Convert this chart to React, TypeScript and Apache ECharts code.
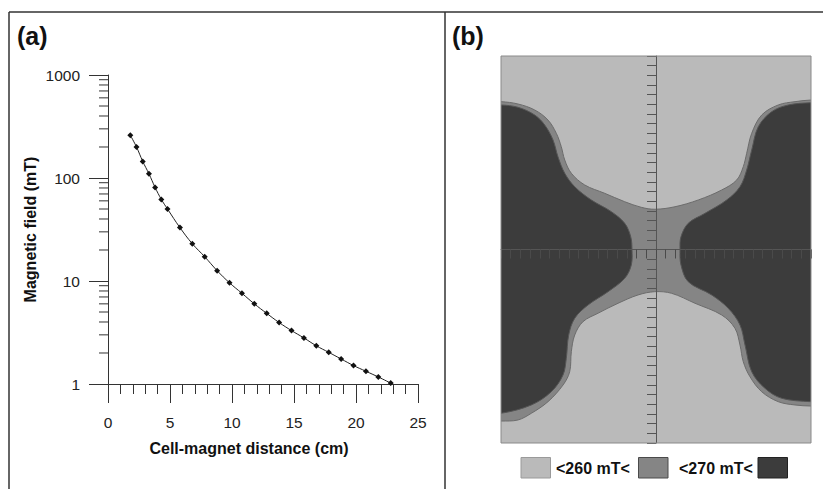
import React, { useEffect, useRef } from "react";
import * as echarts from "echarts";

// ---- Panel (a): field vs distance ----
const distance = [1.8, 2.3, 2.8, 3.3, 3.8, 4.3, 4.8, 5.8, 6.8, 7.8, 8.8, 9.8, 10.8, 11.8, 12.8, 13.8, 14.8, 15.8, 16.8, 17.8, 18.8, 19.8, 20.8, 21.8, 22.8];
const field = [260, 200, 145, 110, 81, 62, 50, 33, 23, 17.2, 12.6, 9.6, 7.6, 6.0, 4.85, 3.95, 3.3, 2.8, 2.35, 2.03, 1.75, 1.51, 1.33, 1.17, 1.02];
const xTickLabels = ["0", "5", "10", "15", "20", "25"];
const yTickLabels = ["1", "10", "100", "1000"];
const yMinorTicks = [2, 3, 4, 5, 6, 7, 8, 9, 20, 30, 40, 50, 60, 70, 80, 90, 200, 300, 400, 500, 600, 700, 800, 900];

// ---- Panel (b): field map contours (grid units) ----
const lightTop = [
  [-16, 15.28], [-14.25, 15.04], [-12.52, 14.42], [-11.15, 13.38], [-10.29, 12.01], [-9.78, 10.63],
  [-9.42, 9.25], [-8.74, 7.88], [-7.36, 6.67], [-5.3, 5.81], [-3.23, 4.94], [-1.52, 4.36], [-0.1, 4.16],
  [1.96, 4.42], [4.37, 5.12], [6.78, 6.15], [8.33, 7.18], [9.01, 8.56], [9.36, 9.94], [9.88, 12.01],
  [10.91, 13.9], [12.62, 14.94], [14.35, 15.28], [16, 15.45],
];
const lightBottom = [
  [-16, -17.73], [-14.25, -17.62], [-12.87, -16.93], [-11.15, -15.73], [-9.6, -14.01], [-8.91, -12.63],
  [-8.74, -10.56], [-8.39, -8.84], [-7.54, -7.46], [-5.99, -6.59], [-3.92, -5.56], [-1.86, -4.7], [-0.13, -4.36],
  [1.62, -4.53], [4.03, -5.56], [6.78, -6.77], [8.15, -8.14], [8.67, -9.87], [9.01, -11.6], [9.7, -13.15],
  [10.91, -14.7], [12.62, -15.73], [14.35, -16.07], [16, -16.18],
];
const darkLeft = [
  [-16, 14.94], [-14.25, 14.7], [-12.52, 13.9], [-11.49, 12.87], [-10.63, 11.32], [-10.12, 9.59], [-9.42, 7.88],
  [-8.39, 6.49], [-6.68, 5.12], [-4.61, 3.91], [-3.23, 2.71], [-2.61, 1.32], [-2.48, 0], [-2.55, -1.6],
  [-3.23, -2.98], [-4.95, -4.36], [-7.02, -5.74], [-8.39, -7.11], [-9.01, -8.84], [-9.26, -11.25], [-9.6, -12.97],
  [-10.81, -14.7], [-12.87, -16.07], [-16, -16.93],
];
const darkRight = [
  [16, 15.17], [13.66, 14.94], [11.94, 14.24], [10.56, 12.69], [9.88, 10.28], [9.36, 8.22], [8.67, 6.49],
  [7.3, 5.12], [5.06, 3.74], [3.33, 2.71], [2.58, 1.32], [2.48, 0], [2.58, -1.6], [3.33, -3.33], [5.75, -4.7],
  [7.46, -6.08], [8.67, -7.8], [9.19, -9.87], [9.88, -12.63], [11.25, -14.35], [12.98, -15.38], [16, -15.73],
];
const legendLabels = ["<260 mT<", "<270 mT<"];
const zoneColors = ["#bababa", "#858585", "#3c3c3c"];

const FONT = "'Liberation Sans', Arial, Helvetica, sans-serif";

function extendEdges(pts: number[][], edge: number) {
  const first = pts[0];
  const last = pts[pts.length - 1];
  return [[edge, first[1]], ...pts, [edge, last[1]]];
}

export default function App() {
  const ref = useRef<HTMLDivElement>(null);
  useEffect(() => {
    if (!ref.current) return;
    const chart = echarts.init(ref.current, null, { renderer: "svg" });

    const midPoly = [
      [-18, lightTop[0][1]],
      ...lightTop,
      [18, lightTop[lightTop.length - 1][1]],
      [18, lightBottom[lightBottom.length - 1][1]],
      ...lightBottom.slice().reverse(),
      [-18, lightBottom[0][1]],
    ];
    const leftPoly = extendEdges(darkLeft, -18);
    const rightPoly = extendEdges(darkRight, 18);

    const polySeries = (pts: number[][], fill: string, stroke: string) => ({
      type: "custom",
      xAxisIndex: 1,
      yAxisIndex: 1,
      clip: true,
      silent: true,
      z: 3,
      data: [[0, 0]],
      renderItem: (_p: any, api: any) => ({
        type: "polygon",
        shape: { points: pts.map((p) => api.coord(p)), smooth: 0.35 },
        style: { fill, stroke, lineWidth: 1 },
      }),
    });

    const legendGraphics: any[] = [];
    const legendRects = [
      { x: 521, c: zoneColors[0], b: "#9a9a9a" },
      { x: 638.5, c: zoneColors[1], b: "#4a4a4a" },
      { x: 758, c: zoneColors[2], b: "#222" },
    ];
    legendRects.forEach((r) =>
      legendGraphics.push({
        type: "rect",
        shape: { x: r.x, y: 457.5, width: 29.5, height: 20.5 },
        style: { fill: r.c, stroke: r.b, lineWidth: 1 },
      })
    );
    [556, 679].forEach((x, i) =>
      legendGraphics.push({
        type: "text",
        x,
        y: 468,
        style: {
          text: legendLabels[i],
          font: `bold 16px ${FONT}`,
          fill: "#111",
          verticalAlign: "middle",
          align: "left",
        },
      })
    );

    chart.setOption({
      animation: false,
      grid: [
        { left: 108, top: 75, width: 310, height: 309, containLabel: false },
        {
          left: 501,
          top: 56,
          width: 310,
          height: 387,
          show: true,
          backgroundColor: zoneColors[0],
          borderColor: "#8a8a8a",
          borderWidth: 0,
        },
      ],
      xAxis: [
        {
          type: "value",
          gridIndex: 0,
          min: 0,
          max: 25,
          interval: 5,
          name: "Cell-magnet distance (cm)",
          nameLocation: "middle",
          nameGap: 56,
          nameTextStyle: {
            fontFamily: FONT,
            fontWeight: "bold",
            fontSize: 16,
            color: "#111",
            padding: [0, 28, 0, 0],
          },
          axisLine: { lineStyle: { color: "#333", width: 1 } },
          axisTick: { length: 19, lineStyle: { color: "#333" } },
          minorTick: { show: true, splitNumber: 5, length: 10, lineStyle: { color: "#333" } },
          splitLine: { show: false },
          axisLabel: {
            margin: 30,
            fontFamily: FONT,
            fontSize: 15.5,
            color: "#222",
            formatter: (v: number) => xTickLabels[Math.round(v / 5)] ?? "",
          },
        },
        {
          type: "value",
          gridIndex: 1,
          min: -16,
          max: 16,
          interval: 1,
          z: 10,
          axisLine: { onZero: true, lineStyle: { color: "#555", width: 1 } },
          axisTick: { length: 9, lineStyle: { color: "#4a4a4a" } },
          axisLabel: { show: false },
          splitLine: { show: false },
        },
      ],
      yAxis: [
        {
          type: "log",
          logBase: 10,
          gridIndex: 0,
          min: 1,
          max: 1000,
          name: "Magnetic field (mT)",
          nameLocation: "middle",
          nameGap: 70,
          nameTextStyle: { fontFamily: FONT, fontWeight: "bold", fontSize: 16, color: "#111" },
          axisLine: { show: true, lineStyle: { color: "#333", width: 1 } },
          axisTick: { show: true, length: 19, lineStyle: { color: "#333" } },
          splitLine: { show: false },
          axisLabel: {
            margin: 28,
            fontFamily: FONT,
            fontSize: 15.5,
            color: "#222",
            formatter: (v: number) => yTickLabels[Math.round(Math.log10(v))] ?? "",
          },
        },
        {
          type: "value",
          gridIndex: 1,
          min: -20,
          max: 20,
          interval: 1,
          z: 10,
          axisLine: { onZero: true, lineStyle: { color: "#555", width: 1 } },
          axisTick: { length: 9, lineStyle: { color: "#555" } },
          axisLabel: { show: false },
          splitLine: { show: false },
        },
      ],
      graphic: [
        { type: "line", shape: { x1: 9, y1: 12, x2: 823, y2: 12 }, style: { stroke: "#333", lineWidth: 1.5 } },
        { type: "line", shape: { x1: 9, y1: 12, x2: 9, y2: 489 }, style: { stroke: "#333", lineWidth: 1.5 } },
        { type: "line", shape: { x1: 445, y1: 12, x2: 445, y2: 489 }, style: { stroke: "#333", lineWidth: 1.5 } },
        {
          type: "text",
          x: 17,
          y: 23,
          style: { text: "(a)", font: `bold 25px ${FONT}`, fill: "#111" },
        },
        {
          type: "text",
          x: 452,
          y: 23,
          style: { text: "(b)", font: `bold 25px ${FONT}`, fill: "#111" },
        },
        {
          type: "rect",
          z: 100,
          shape: { x: 501, y: 56, width: 310, height: 387 },
          style: { fill: "none", stroke: "#8a8a8a", lineWidth: 1 },
        },
        ...legendGraphics,
      ],
      series: [
        {
          type: "line",
          xAxisIndex: 0,
          yAxisIndex: 0,
          data: distance.map((d, i) => [d, field[i]]),
          smooth: 0.4,
          symbol: "diamond",
          symbolSize: 6,
          itemStyle: { color: "#111" },
          lineStyle: { color: "#222", width: 1 },
        },
        {
          type: "custom",
          xAxisIndex: 0,
          yAxisIndex: 0,
          silent: true,
          data: yMinorTicks.map((v) => [0, v]),
          renderItem: (_p: any, api: any) => {
            const pt = api.coord([0, api.value(1)]);
            return {
              type: "line",
              shape: { x1: pt[0] - 9, y1: pt[1], x2: pt[0], y2: pt[1] },
              style: { stroke: "#333", lineWidth: 1 },
            };
          },
        },
        polySeries(midPoly, zoneColors[1], "#6c6c6c"),
        polySeries(leftPoly, zoneColors[2], "#555"),
        polySeries(rightPoly, zoneColors[2], "#555"),
      ],
    } as any);
    return () => chart.dispose();
  }, []);
  return (
    <div
      ref={ref}
      style={{ position: "absolute", left: 0, top: 0, width: 823, height: 489, background: "#fff" }}
    />
  );
}
